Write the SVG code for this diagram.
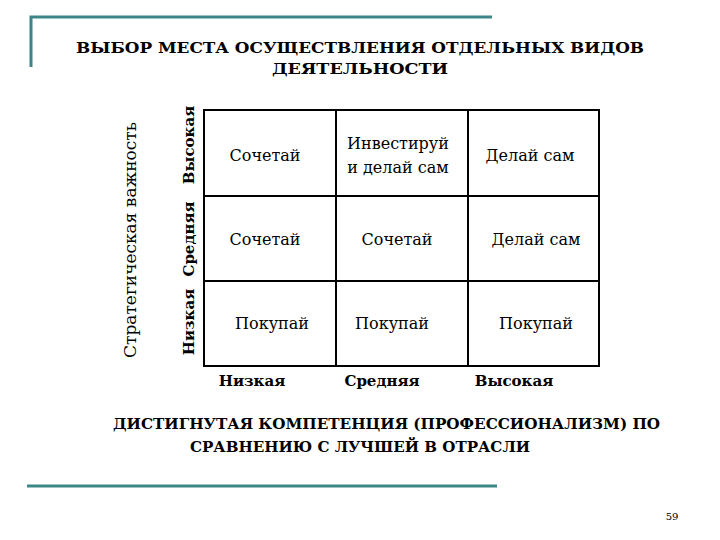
<svg xmlns="http://www.w3.org/2000/svg" width="720" height="540" viewBox="0 0 720 540" font-family="'DejaVu Serif',serif">
<style>
text{font-family:'DejaVu Serif','Liberation Serif',serif;fill:#000}
.b{font-weight:bold;font-size:15px}
.c{font-size:16px}
.g{fill:none;stroke:#000;stroke-width:2}
.d{stroke:#3b8686;stroke-width:3;fill:none}
</style>
<rect width="720" height="540" fill="#fff"/>
<path class="d" d="M31 67V17H492"/>
<line class="d" x1="27" y1="486" x2="497" y2="486"/>
<text class="b" x="76" y="53" textLength="568" lengthAdjust="spacingAndGlyphs">ВЫБОР МЕСТА ОСУЩЕСТВЛЕНИЯ ОТДЕЛЬНЫХ ВИДОВ</text>
<text class="b" x="272" y="74" textLength="176" lengthAdjust="spacingAndGlyphs">ДЕЯТЕЛЬНОСТИ</text>
<text font-size="17" transform="translate(136,240) rotate(-90)" text-anchor="middle">Стратегическая важность</text>
<g id="yaxis" text-anchor="middle">
<text class="b" transform="translate(194,322) rotate(-90)">Низкая</text>
<text class="b" transform="translate(194,239) rotate(-90)">Средняя</text>
<text class="b" transform="translate(194,145) rotate(-90)">Высокая</text>
</g>
<g id="xaxis" text-anchor="middle">
<text class="b" x="252" y="386">Низкая</text>
<text class="b" x="382" y="386">Средняя</text>
<text class="b" x="514" y="386">Высокая</text>
</g>
<g id="grid">
<rect class="g" x="204" y="110" width="395" height="256"/>
<line class="g" x1="336" y1="110" x2="336" y2="366" stroke-width="1.2"/>
<line class="g" x1="468" y1="110" x2="468" y2="366" stroke-width="1.2"/>
<line class="g" x1="204" y1="196" x2="599" y2="196" stroke-width="1.2"/>
<line class="g" x1="204" y1="281" x2="599" y2="281" stroke-width="1.2"/>
</g>
<g id="cells" text-anchor="middle">
<text class="c" x="265" y="161">Сочетай</text>
<text class="c" x="398" y="149">Инвестируй</text>
<text class="c" x="398" y="173">и делай сам</text>
<text class="c" x="530" y="161">Делай сам</text>
<text class="c" x="265" y="245">Сочетай</text>
<text class="c" x="397" y="245">Сочетай</text>
<text class="c" x="536" y="245">Делай сам</text>
<text class="c" x="272" y="329">Покупай</text>
<text class="c" x="392" y="329">Покупай</text>
<text class="c" x="536" y="329">Покупай</text>
</g>
<text class="b" x="113" y="429" textLength="547" lengthAdjust="spacingAndGlyphs">ДИСТИГНУТАЯ КОМПЕТЕНЦИЯ (ПРОФЕССИОНАЛИЗМ) ПО</text>
<text class="b" x="190" y="452" textLength="340" lengthAdjust="spacingAndGlyphs">СРАВНЕНИЮ С ЛУЧШЕЙ В ОТРАСЛИ</text>
<text font-size="10" x="672" y="520" text-anchor="middle">59</text>
</svg>
